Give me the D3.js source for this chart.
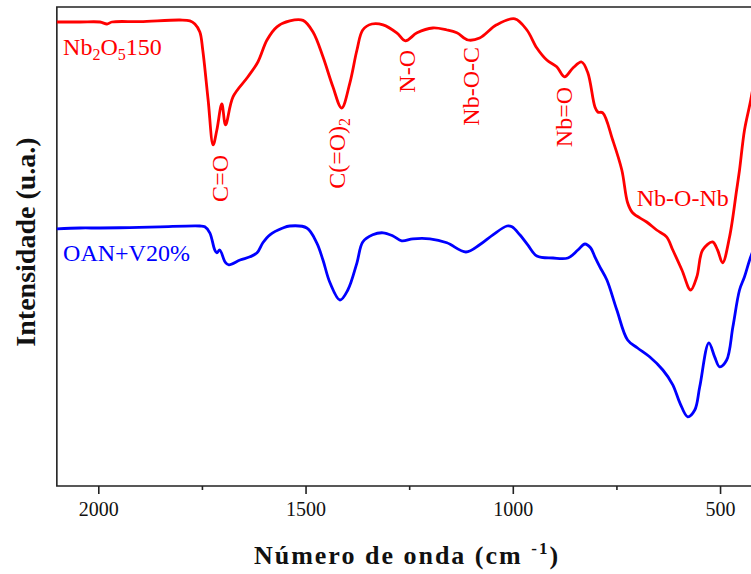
<!DOCTYPE html>
<html>
<head>
<meta charset="utf-8">
<script src="https://d3js.org/d3.v7.min.js"></script>
<style>
	body { margin: 0; background: #fff; }
	text { font-family: "Liberation Serif", "Tinos", "Times New Roman", "DejaVu Serif", serif; }
</style>
</head>
<body>
<script>

// wavenumber (cm-1) for each sample
var wavenumber = [2100, 2044, 1996, 1979, 1967, 1899, 1803, 1779, 1767, 1755, 1748, 1735, 1723, 1714, 1702, 1693, 1675, 1639, 1615, 1593, 1569, 1538, 1506, 1482, 1458, 1434, 1413, 1393, 1376, 1362, 1340, 1313, 1280, 1259, 1231, 1193, 1159, 1135, 1108, 1080, 1039, 995, 966, 942, 918, 894, 875, 855, 834, 819, 802, 795, 783, 759, 737, 723, 711, 677, 653, 629, 614, 592, 571, 556, 542, 518, 506, 494, 477, 460, 453, 441, 426, 400]

// Nb2O5150 (red)
var nb2o5 = [116, 116, 116, 115.5, 116, 116.1, 116.5, 116.3, 115.5, 113.5, 109, 96.5, 85.3, 89, 95.5, 90.3, 97.3, 102.3, 106, 111.5, 114.8, 116.3, 116.4, 113.5, 107.3, 99.8, 94.5, 100.8, 109, 114, 115.5, 115.3, 113.3, 111.3, 113.3, 114.5, 114, 113.3, 111.5, 112, 115.3, 116.8, 114, 109.5, 106.5, 104.8, 102.3, 104.5, 106, 103.3, 94.8, 93.5, 93.3, 86.5, 79, 70.8, 68.3, 66, 64, 62.3, 59, 54, 49, 52.3, 59, 61, 59, 55.8, 62.3, 74, 79, 89, 96.5, 112]

// OAN+V20% (blue) has its own sampling
var wavenumberB = [2100, 2044, 1996, 1924, 1851, 1755, 1743, 1731, 1719, 1714, 1707, 1694, 1685, 1658, 1634, 1617, 1603, 1586, 1555, 1538, 1497, 1473, 1458, 1441, 1417, 1398, 1376, 1362, 1338, 1313, 1289, 1268, 1241, 1200, 1159, 1113, 1080, 1048, 1014, 1002, 983, 964, 942, 903, 867, 843, 826, 812, 802, 790, 773, 749, 723, 699, 670, 638, 614, 597, 578, 561, 549, 527, 513, 501, 484, 469, 453, 441, 426, 400]
var oanV20 = [64.3, 64.5, 64.5, 64.6, 64.8, 65, 64.8, 63.3, 59, 58.3, 59, 56, 55.3, 56.5, 57.3, 58.3, 60.8, 62.8, 64.5, 65, 64.5, 60.8, 56.5, 50.8, 46.5, 49, 55.8, 61, 62.8, 63.3, 62.5, 61.3, 61.8, 61.8, 60.8, 58.5, 60.3, 62.8, 65, 64.8, 62.8, 60.3, 57.5, 57, 57, 59, 60.5, 59.5, 57.3, 54.8, 51.5, 44, 36.5, 34.5, 32.3, 29, 25.3, 20.8, 17.3, 19, 24.8, 35.8, 32.3, 29.8, 31.5, 39.8, 49, 52.3, 57.3, 64]

var majorTicks = [2000, 1500, 1000, 500]
var minorTicks = [1750, 1250, 750]

// peak labels: text, wavenumber of baseline, intensity of the top end
var peakNames = ["C=O", "C(=O)", "N-O", "Nb-O-C", "Nb=O"]
var peakSub = ["", "2", "", "", ""]
var peakPos = [1687, 1405, 1236, 1082, 858]
var peakTop = [82.75, 92, 109, 109.75, 99.75]

var width = 751, height = 574

var svg = d3.select("body").append("svg")
	.attr("width", width)
	.attr("height", height)

var x = d3.scaleLinear().domain([2100, 400]).range([56.85, 761.5])
var y = d3.scaleLinear().domain([0, 119.75]).range([486, 7])

var line = d3.line()
	.x(function(d) { return x(d[0]) })
	.y(function(d) { return y(d[1]) })
	.curve(d3.curveCatmullRom.alpha(0.5))

// frame: left, top, bottom
svg.append("path")
	.attr("d", "M" + x(400) + "," + y(119.75) + "H" + x(2100) + "V" + y(0) + "H" + x(400))
	.attr("fill", "none")
	.attr("stroke", "#222")
	.attr("stroke-width", 1.6)

var xAxis = svg.append("g")
	.attr("transform", "translate(0," + y(0) + ")")
	.call(d3.axisBottom(x).tickValues(majorTicks).tickSize(8).tickFormat(d3.format("d")))
xAxis.select(".domain").remove()
xAxis.selectAll("line").attr("stroke", "#222").attr("stroke-width", 1.6)
xAxis.selectAll("text")
	.attr("y", 16)
	.attr("fill", "#111")
	.style("font-size", "20px")

var xMinor = svg.append("g")
	.attr("transform", "translate(0," + y(0) + ")")
	.call(d3.axisBottom(x).tickValues(minorTicks).tickSize(4).tickFormat(""))
xMinor.select(".domain").remove()
xMinor.selectAll("line").attr("stroke", "#222").attr("stroke-width", 1.6)

// spectra
svg.append("path")
	.datum(d3.zip(wavenumber, nb2o5))
	.attr("d", line)
	.attr("fill", "none")
	.attr("stroke", "#ff0000")
	.attr("stroke-width", 2.8)

svg.append("path")
	.datum(d3.zip(wavenumberB, oanV20))
	.attr("d", line)
	.attr("fill", "none")
	.attr("stroke", "#0000ff")
	.attr("stroke-width", 2.8)

// sample names
var t1 = svg.append("text")
	.attr("x", x(2085)).attr("y", y(107.75))
	.attr("fill", "#f00")
	.style("font-size", "24px")
t1.append("tspan").text("Nb")
t1.append("tspan").attr("dy", 5).style("font-size", "16px").text("2")
t1.append("tspan").attr("dy", -5).text("O")
t1.append("tspan").attr("dy", 5).style("font-size", "16px").text("5")
t1.append("tspan").attr("dy", -5).text("150")

svg.append("text")
	.attr("x", x(2085)).attr("y", y(56.25))
	.attr("fill", "#00f")
	.style("font-size", "24px")
	.text("OAN+V20%")

// rotated peak labels
peakNames.forEach(function(name, i) {
	var t = svg.append("text")
		.attr("transform", "translate(" + x(peakPos[i]) + "," + y(peakTop[i]) + ") rotate(-90)")
		.attr("text-anchor", "end")
		.attr("fill", "#f00")
		.style("font-size", "24px")
	t.append("tspan").text(name)
	if (peakSub[i]) t.append("tspan").attr("dy", 5).style("font-size", "16px").text(peakSub[i])
})

svg.append("text")
	.attr("x", x(701)).attr("y", y(70))
	.attr("fill", "#f00")
	.style("font-size", "24px")
	.text("Nb-O-Nb")

// axis titles
var xt = svg.append("text")
	.attr("x", 407).attr("y", 564)
	.attr("text-anchor", "middle")
	.attr("fill", "#111")
	.style("font-size", "26px")
	.style("font-weight", "bold")
	.style("letter-spacing", "2px")
xt.append("tspan").text("Número de onda (cm ")
xt.append("tspan").attr("dy", -10).style("font-size", "17px").text("-1")
xt.append("tspan").attr("dy", 10).text(")")

svg.append("text")
	.attr("transform", "translate(35,242) rotate(-90)")
	.attr("text-anchor", "middle")
	.attr("fill", "#111")
	.style("font-size", "28px")
	.style("font-weight", "bold")
	.text("Intensidade (u.a.)")

</script>
</body>
</html>
